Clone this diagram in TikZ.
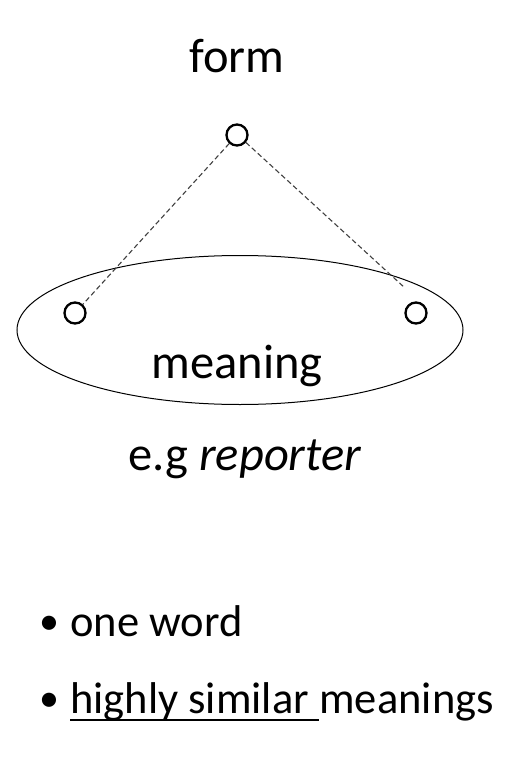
\documentclass[tikz,border=0pt]{standalone}
\usepackage{fontspec}
\setmainfont{Carlito}
\usetikzlibrary{shapes.geometric}
\begin{document}
\begin{tikzpicture}[x=1pt,y=-1pt,
  lbl/.style={inner sep=0pt,font=\fontsize{44.5}{48}\selectfont},
  big/.style={inner sep=0pt,font=\fontsize{48.5}{52}\selectfont},
  bul/.style={inner sep=0pt,font=\fontsize{40}{44}\selectfont},
  dot/.style={circle,draw,line width=2.3pt,minimum size=21pt,inner sep=0pt},
  dashln/.style={line width=1.1pt,draw=black!75,dash pattern=on 5pt off 3pt}]
\useasboundingbox (0,0) rectangle (524,760);
\node[big,anchor=base] (form) at (237,72) {form};
\node[dot] (top) at (237,135) {};
\node[dot] (left) at (75,313) {};
\node[dot] (right) at (416,313) {};
\node[draw,ellipse,line width=1pt,minimum width=446pt,minimum height=149pt,inner sep=0pt] (mean) at (240,330) {};
\node[big,anchor=base] (meaning) at (237,378) {meaning};
\coordinate (rend) at (405,288);
\draw[dashln] (top) -- (left);
\draw[dashln] (top.-40) -- (rend);
\node[big,anchor=base] (eg) at (245,470) {e.g \textit{reporter}};
\node[bul,anchor=base west] (bul1) at (39,634) {\textbullet};
\node[lbl,anchor=base west] (b1) at (70,636) {one word};
\node[bul,anchor=base west] (bul2) at (39,711) {\textbullet};
\node[lbl,anchor=base west] (hs) at (70,713) {highly similar\ \null};
\node[lbl,anchor=base west] (mg) at (hs.base east) {meanings};
\draw[line width=1.8pt] ([yshift=-7pt]hs.base west) -- ([yshift=-7pt]hs.base east);
\end{tikzpicture}
\end{document}
